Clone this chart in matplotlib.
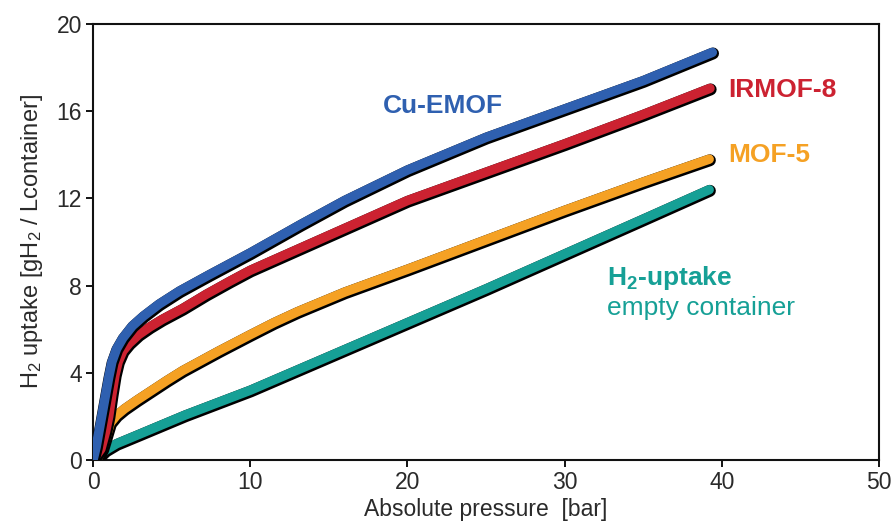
import matplotlib
matplotlib.use("Agg")
import matplotlib.pyplot as plt
import matplotlib.patheffects as pe

plt.rcParams['font.family'] = ['Liberation Sans', 'DejaVu Sans']
plt.rcParams['mathtext.fontset'] = 'custom'
plt.rcParams['mathtext.rm'] = 'Liberation Sans'
plt.rcParams['mathtext.bf'] = 'Liberation Sans:bold'
plt.rcParams['mathtext.it'] = 'Liberation Sans:italic'

# ---- data ----
cu_emof_x = [0, 0.2, 0.4, 0.6, 0.8, 1.0, 1.2, 1.5, 1.9, 2.5, 3.2, 4.2, 5.5, 7.4, 10, 13.2, 16, 20, 25, 30, 35, 39.4]
cu_emof_y = [0, 0.6, 1.4, 2.2, 3.0, 3.8, 4.5, 5.1, 5.6, 6.15, 6.6, 7.15, 7.75, 8.5, 9.5, 10.8, 11.9, 13.3, 14.8, 16.1, 17.4, 18.7]

irmof8_x = [0, 0.5, 0.8, 1.0, 1.2, 1.4, 1.6, 1.9, 2.3, 2.9, 3.6, 4.4, 5.7, 7.2, 8.7, 10, 12.5, 15, 17.5, 20, 25, 30, 35, 39.25]
irmof8_y = [0, 0.5, 1.3, 2.0, 3.0, 3.9, 4.5, 5.0, 5.35, 5.75, 6.1, 6.45, 6.95, 7.6, 8.2, 8.7, 9.5, 10.3, 11.1, 11.9, 13.2, 14.5, 15.85, 17.05]

mof5_x = [0.3, 0.6, 0.85, 1.1, 1.5, 2.0, 2.8, 3.75, 4.7, 5.7, 8, 10, 11.5, 13, 16, 20, 25, 30, 35, 39.2]
mof5_y = [0.1, 0.5, 1.1, 1.7, 2.05, 2.35, 2.75, 3.2, 3.65, 4.1, 5.0, 5.75, 6.3, 6.8, 7.7, 8.75, 10.1, 11.45, 12.75, 13.8]

empty_x = [0.3, 0.8, 1.5, 3, 5.85, 10, 15, 20, 25, 30, 35, 39.2]
empty_y = [0.1, 0.45, 0.75, 1.2, 2.06, 3.2, 4.75, 6.3, 7.85, 9.45, 11.05, 12.4]

x_ticks = [0, 10, 20, 30, 40, 50]
y_ticks = [0, 4, 8, 12, 16, 20]

c_blue = '#2f60b0'
c_red = '#cc2231'
c_orange = '#f5a124'
c_teal = '#16a096'

fig = plt.figure(figsize=(8.96, 5.24), dpi=100)
ax = fig.add_axes([0.1038, 0.1221, 0.8772, 0.8321])

lw = 6.8
effects = [pe.Stroke(linewidth=lw + 1.8, foreground='black', offset=(0.5, -0.8)), pe.Normal()]

for xs, ys, c in [(empty_x, empty_y, c_teal), (mof5_x, mof5_y, c_orange),
                  (irmof8_x, irmof8_y, c_red), (cu_emof_x, cu_emof_y, c_blue)]:
    ax.plot(xs, ys, color=c, lw=lw, solid_capstyle='round', solid_joinstyle='round',
            path_effects=effects, zorder=3)

ax.set_xlim(0, 50)
ax.set_ylim(0, 20)
ax.set_xticks(x_ticks)
ax.set_yticks(y_ticks)
ax.tick_params(axis='both', direction='out', length=5, width=1.3, labelsize=16.5,
               labelcolor='#2a2a2a', pad=3, top=False, right=False)
for s in ax.spines.values():
    s.set_linewidth(1.5)
    s.set_color('#111111')

ax.set_xlabel('Absolute pressure  [bar]', fontsize=16.5, color='#2a2a2a', labelpad=3)
ax.set_ylabel(r'H$_2$ uptake [gH$_2$ / Lcontainer]', fontsize=17, color='#2a2a2a', labelpad=8)

tfs = 19
ax.text(18.45, 15.9, 'Cu-EMOF', color=c_blue, fontsize=tfs, fontweight='bold', va='baseline', ha='left')
ax.text(40.4, 16.65, 'IRMOF-8', color=c_red, fontsize=tfs, fontweight='bold', va='baseline', ha='left')
ax.text(40.4, 13.67, 'MOF-5', color=c_orange, fontsize=tfs, fontweight='bold', va='baseline', ha='left')
ax.text(32.7, 8.03, r'H$_\mathbf{2}$-uptake', color=c_teal, fontsize=tfs, fontweight='bold', va='baseline', ha='left')
ax.text(32.7, 6.65, 'empty container', color=c_teal, fontsize=tfs, va='baseline', ha='left')

fig.savefig('out.png', dpi=100)
